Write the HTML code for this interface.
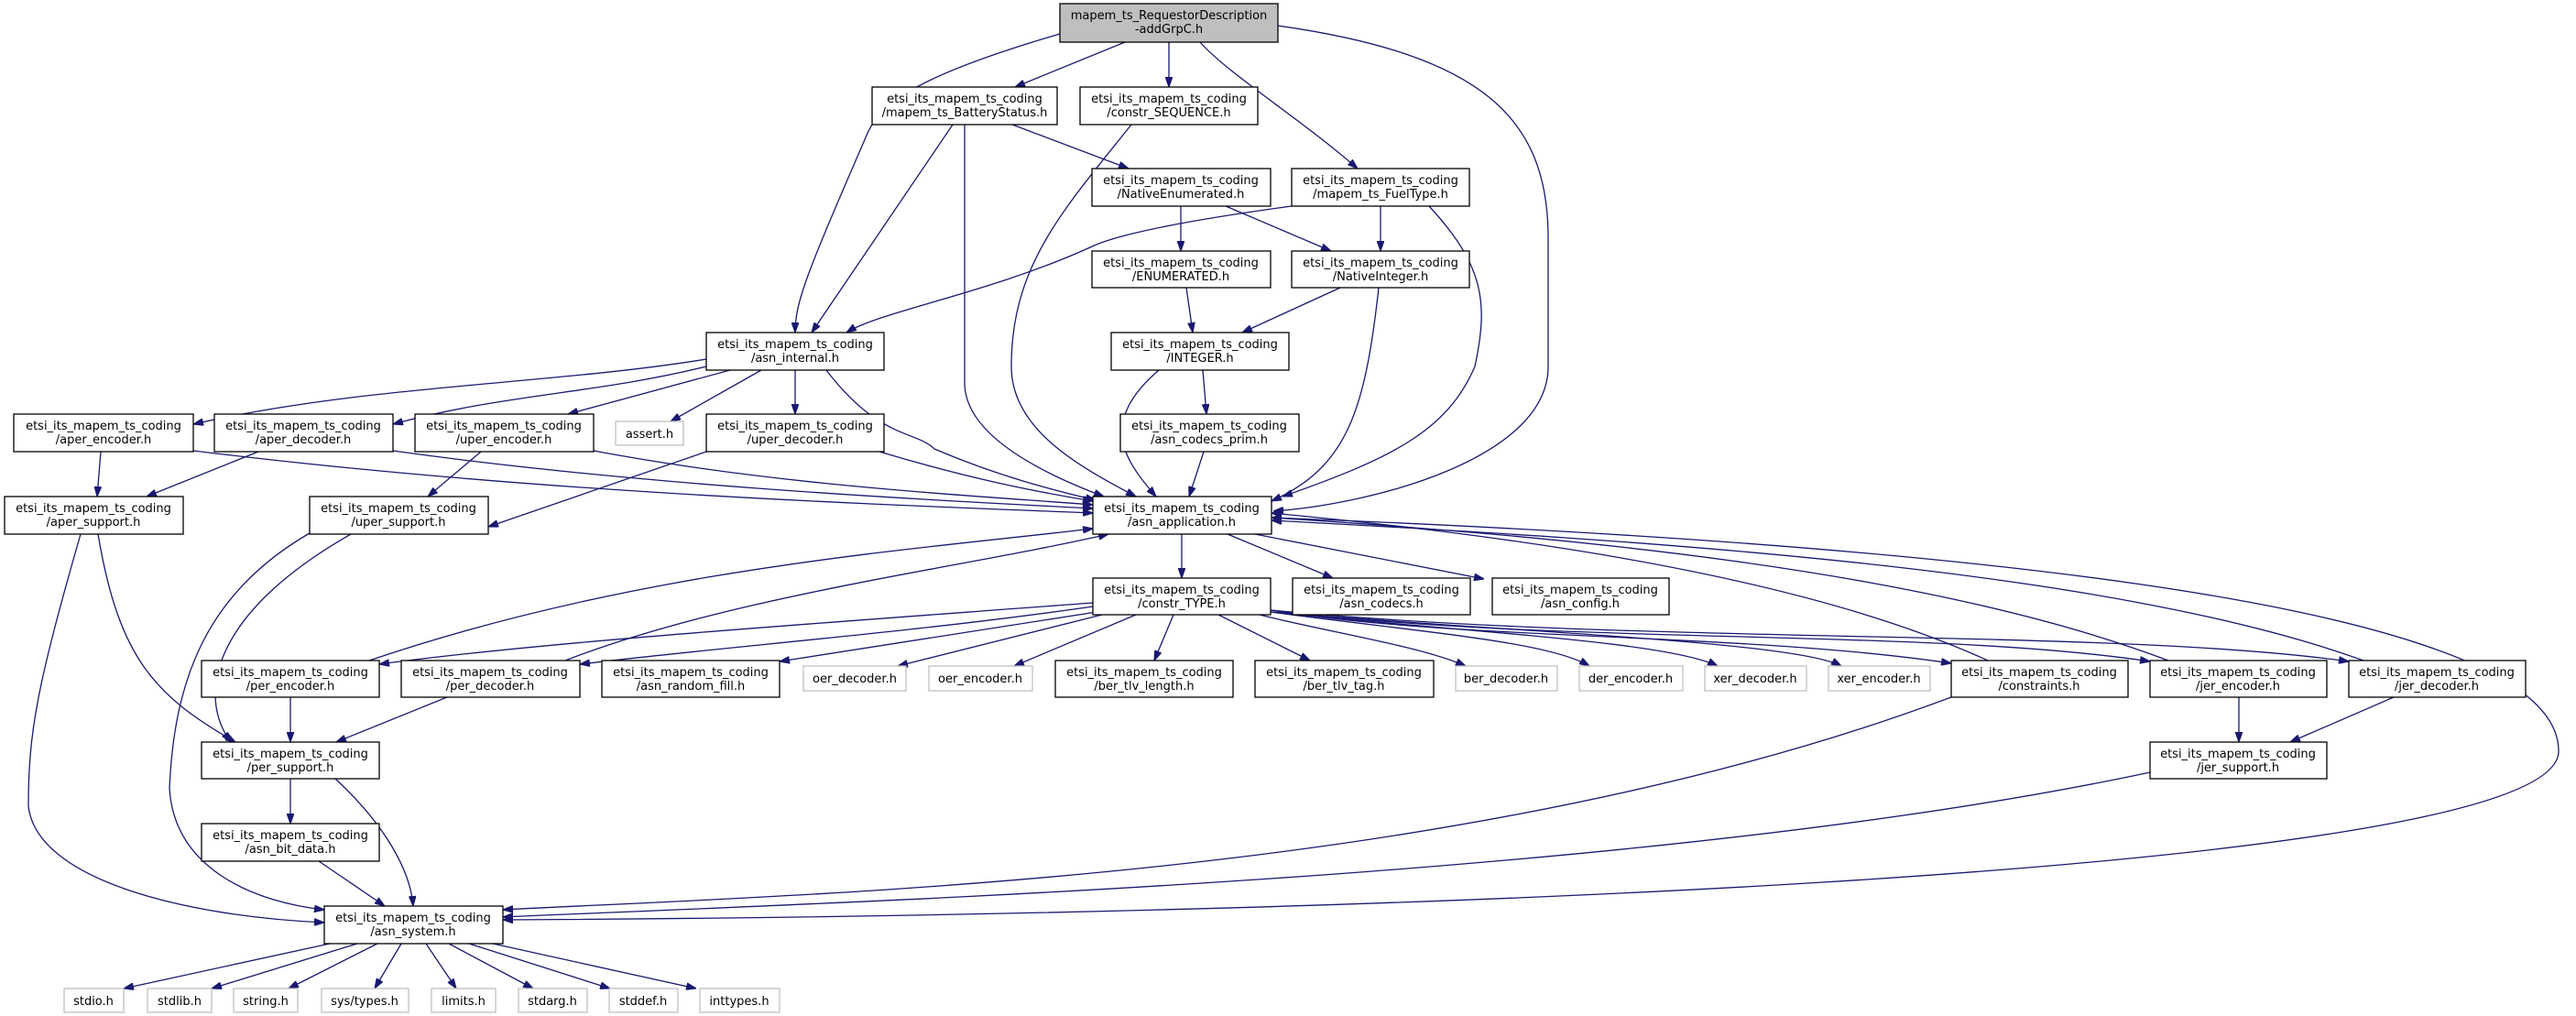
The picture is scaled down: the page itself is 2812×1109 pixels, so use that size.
<!DOCTYPE html>
<html><head><meta charset="utf-8"><style>
html,body{margin:0;padding:0;background:#fff;}
svg{display:block;}
text{font-family:"DejaVu Sans","Liberation Sans",sans-serif;font-size:13px;fill:#000;}
.n{fill:#fff;stroke:#000;stroke-width:1.3;}
.g{fill:#fff;stroke:#bfbfbf;stroke-width:1.3;}
.r{fill:#bfbfbf;stroke:#000;stroke-width:1.3;}
.e{fill:none;stroke:#191970;stroke-width:1.3;}
</style></head><body>
<svg width="2812" height="1109" viewBox="0 0 2812 1109" xmlns="http://www.w3.org/2000/svg">
<defs>
<marker id="a" viewBox="0 0 10 7" refX="10" refY="3.5" markerWidth="11" markerHeight="8" markerUnits="userSpaceOnUse" orient="auto">
<path d="M0,0 L10,3.5 L0,7 z" fill="#191970" stroke="#191970"/>
</marker>
</defs>
<g marker-end="url(#a)">
<!-- root -->
<path class="e" d="M1157,37 C1010,80 960,110 945,150 C880,300 868,330 868,363"/>
<path class="e" d="M1228,46 L1108,95"/>
<path class="e" d="M1276,46 L1276,95"/>
<path class="e" d="M1310,46 C1340,80 1420,130 1482,184"/>
<path class="e" d="M1395,28 C1620,60 1690,130 1690,260 L1690,400 C1690,500 1500,550 1390,558"/>
<!-- BatteryStatus -->
<path class="e" d="M1040,136 L886,363"/>
<path class="e" d="M1053,136 L1053,420 C1055,470 1120,510 1205,542"/>
<path class="e" d="M1105,136 L1232,184"/>
<!-- constr_SEQUENCE -->
<path class="e" d="M1235,136 C1160,230 1104,290 1104,400 C1104,470 1180,510 1240,542"/>
<!-- NativeEnumerated -->
<path class="e" d="M1289,225 L1289,274"/>
<path class="e" d="M1338,225 L1453,274"/>
<!-- FuelType -->
<path class="e" d="M1410,225 C1300,240 1220,255 1190,270 C1080,320 960,340 924,363"/>
<path class="e" d="M1507,225 L1507,274"/>
<path class="e" d="M1560,225 C1620,290 1625,330 1610,400 C1580,470 1520,500 1400,542"/>
<!-- NativeInteger -->
<path class="e" d="M1463,314 L1356,363"/>
<path class="e" d="M1505,314 C1490,450 1470,510 1388,547"/>
<!-- ENUMERATED -->
<path class="e" d="M1295,314 L1302,363"/>
<!-- INTEGER -->
<path class="e" d="M1265,404 C1200,460 1225,500 1262,542"/>
<path class="e" d="M1313,404 L1317,452"/>
<path class="e" d="M1314,493 L1298,542"/>
<!-- asn_internal -->
<path class="e" d="M771,392 C600,420 400,420 211,463"/>
<path class="e" d="M771,400 C650,430 550,430 429,463"/>
<path class="e" d="M797,404 L620,452"/>
<path class="e" d="M831,404 L732,460"/>
<path class="e" d="M868,404 L868,452"/>
<path class="e" d="M902,404 C960,480 1000,470 1020,490 C1090,520 1150,535 1196,546"/>
<!-- aper/uper -->
<path class="e" d="M110,493 L106,542"/>
<path class="e" d="M211,492 C600,540 1000,552 1193,560"/>
<path class="e" d="M282,493 L160,542"/>
<path class="e" d="M429,492 C700,530 1000,545 1193,555"/>
<path class="e" d="M525,493 L467,542"/>
<path class="e" d="M648,492 C850,530 1050,540 1193,551"/>
<path class="e" d="M771,493 L533,575"/>
<path class="e" d="M960,493 C1050,520 1120,535 1193,547"/>
<!-- aper_support -->
<path class="e" d="M107,583 C130,720 170,760 257,810"/>
<path class="e" d="M88,583 C40,750 31,800 31,880 C40,960 200,1000 354,1007"/>
<!-- uper_support -->
<path class="e" d="M383,583 C230,670 215,760 252,810"/>
<path class="e" d="M338,582 C220,650 190,750 185,860 C190,950 280,985 354,993"/>
<!-- asn_application -->
<path class="e" d="M1290,583 L1290,631"/>
<path class="e" d="M1340,583 L1455,631"/>
<path class="e" d="M1370,583 L1620,632"/>
<path class="e" d="M403,721 C700,620 1000,600 1193,577"/>
<path class="e" d="M617,721 C800,650 1050,620 1210,583"/>
<path class="e" d="M2170,721 C1950,620 1600,580 1388,560"/>
<path class="e" d="M2367,721 C2100,620 1700,585 1388,565"/>
<path class="e" d="M2580,721 C2300,620 1800,590 1388,568"/>
<path class="e" d="M1388,565 C2300,600 2793,680 2793,820 C2793,960 1400,1000 549,1004"/>
<!-- constr_TYPE -->
<path class="e" d="M1193,658 C900,680 600,700 414,725"/>
<path class="e" d="M1193,662 C1000,690 800,705 633,725"/>
<path class="e" d="M1197,668 L851,722"/>
<path class="e" d="M1203,671 L980,727"/>
<path class="e" d="M1240,671 L1107,727"/>
<path class="e" d="M1281,671 L1260,721"/>
<path class="e" d="M1330,671 L1430,721"/>
<path class="e" d="M1375,671 C1450,690 1550,705 1600,727"/>
<path class="e" d="M1387,668 C1550,690 1690,700 1735,727"/>
<path class="e" d="M1387,668 C1600,690 1820,700 1875,727"/>
<path class="e" d="M1387,668 C1650,690 1960,700 2010,727"/>
<path class="e" d="M1387,666 C1600,700 1900,690 2130,724"/>
<path class="e" d="M1387,666 C1700,705 2100,685 2347,722"/>
<path class="e" d="M1387,666 C1800,705 2300,685 2564,722"/>
<!-- per -->
<path class="e" d="M317,761 L317,810"/>
<path class="e" d="M488,761 L367,810"/>
<path class="e" d="M317,850 L317,899"/>
<path class="e" d="M366,850 C420,900 448,950 451,989"/>
<path class="e" d="M348,940 L420,989"/>
<path class="e" d="M2130,761 C1600,960 900,975 549,993"/>
<path class="e" d="M2444,761 L2444,810"/>
<path class="e" d="M2613,761 L2500,810"/>
<path class="e" d="M2347,843 C1800,960 900,985 549,1001"/>
<!-- asn_system -->
<path class="e" d="M360,1030 L135,1079"/>
<path class="e" d="M390,1030 L231,1079"/>
<path class="e" d="M412,1030 L315,1079"/>
<path class="e" d="M438,1030 L409,1079"/>
<path class="e" d="M465,1030 L498,1079"/>
<path class="e" d="M490,1030 L582,1079"/>
<path class="e" d="M512,1030 L666,1079"/>
<path class="e" d="M538,1030 L760,1079"/>
</g>
<!-- nodes -->
<rect class="r" x="1157" y="4" width="238" height="42"/>
<text x="1276" y="21" text-anchor="middle">mapem_ts_RequestorDescription</text>
<text x="1276" y="36" text-anchor="middle">-addGrpC.h</text>
<g text-anchor="middle">
<rect class="n" x="952" y="95" width="202" height="41"/><text x="1053" y="112">etsi_its_mapem_ts_coding</text><text x="1053" y="127">/mapem_ts_BatteryStatus.h</text>
<rect class="n" x="1179" y="95" width="194" height="41"/><text x="1276" y="112">etsi_its_mapem_ts_coding</text><text x="1276" y="127">/constr_SEQUENCE.h</text>
<rect class="n" x="1192" y="184" width="195" height="41"/><text x="1289" y="201">etsi_its_mapem_ts_coding</text><text x="1289" y="216">/NativeEnumerated.h</text>
<rect class="n" x="1410" y="184" width="194" height="41"/><text x="1507" y="201">etsi_its_mapem_ts_coding</text><text x="1507" y="216">/mapem_ts_FuelType.h</text>
<rect class="n" x="1192" y="274" width="195" height="40"/><text x="1289" y="291">etsi_its_mapem_ts_coding</text><text x="1289" y="306">/ENUMERATED.h</text>
<rect class="n" x="1410" y="274" width="194" height="40"/><text x="1507" y="291">etsi_its_mapem_ts_coding</text><text x="1507" y="306">/NativeInteger.h</text>
<rect class="n" x="771" y="363" width="194" height="41"/><text x="868" y="380">etsi_its_mapem_ts_coding</text><text x="868" y="395">/asn_internal.h</text>
<rect class="n" x="1213" y="363" width="194" height="41"/><text x="1310" y="380">etsi_its_mapem_ts_coding</text><text x="1310" y="395">/INTEGER.h</text>
<rect class="n" x="15" y="452" width="196" height="41"/><text x="113" y="469">etsi_its_mapem_ts_coding</text><text x="113" y="484">/aper_encoder.h</text>
<rect class="n" x="234" y="452" width="195" height="41"/><text x="331" y="469">etsi_its_mapem_ts_coding</text><text x="331" y="484">/aper_decoder.h</text>
<rect class="n" x="453" y="452" width="195" height="41"/><text x="550" y="469">etsi_its_mapem_ts_coding</text><text x="550" y="484">/uper_encoder.h</text>
<rect class="g" x="672" y="460" width="74" height="26"/><text x="709" y="478">assert.h</text>
<rect class="n" x="771" y="452" width="194" height="41"/><text x="868" y="469">etsi_its_mapem_ts_coding</text><text x="868" y="484">/uper_decoder.h</text>
<rect class="n" x="1223" y="452" width="195" height="41"/><text x="1320" y="469">etsi_its_mapem_ts_coding</text><text x="1320" y="484">/asn_codecs_prim.h</text>
<rect class="n" x="5" y="542" width="195" height="41"/><text x="102" y="559">etsi_its_mapem_ts_coding</text><text x="102" y="574">/aper_support.h</text>
<rect class="n" x="338" y="542" width="195" height="41"/><text x="435" y="559">etsi_its_mapem_ts_coding</text><text x="435" y="574">/uper_support.h</text>
<rect class="n" x="1193" y="542" width="195" height="41"/><text x="1290" y="559">etsi_its_mapem_ts_coding</text><text x="1290" y="574">/asn_application.h</text>
<rect class="n" x="1193" y="631" width="194" height="40"/><text x="1290" y="648">etsi_its_mapem_ts_coding</text><text x="1290" y="663">/constr_TYPE.h</text>
<rect class="n" x="1411" y="631" width="194" height="40"/><text x="1508" y="648">etsi_its_mapem_ts_coding</text><text x="1508" y="663">/asn_codecs.h</text>
<rect class="n" x="1629" y="631" width="193" height="40"/><text x="1725" y="648">etsi_its_mapem_ts_coding</text><text x="1725" y="663">/asn_config.h</text>
<rect class="n" x="220" y="721" width="194" height="40"/><text x="317" y="738">etsi_its_mapem_ts_coding</text><text x="317" y="753">/per_encoder.h</text>
<rect class="n" x="438" y="721" width="195" height="40"/><text x="535" y="738">etsi_its_mapem_ts_coding</text><text x="535" y="753">/per_decoder.h</text>
<rect class="n" x="657" y="721" width="194" height="40"/><text x="754" y="738">etsi_its_mapem_ts_coding</text><text x="754" y="753">/asn_random_fill.h</text>
<rect class="g" x="877" y="727" width="112" height="27"/><text x="933" y="745">oer_decoder.h</text>
<rect class="g" x="1014" y="727" width="113" height="27"/><text x="1070" y="745">oer_encoder.h</text>
<rect class="n" x="1152" y="721" width="194" height="40"/><text x="1249" y="738">etsi_its_mapem_ts_coding</text><text x="1249" y="753">/ber_tlv_length.h</text>
<rect class="n" x="1370" y="721" width="195" height="40"/><text x="1467" y="738">etsi_its_mapem_ts_coding</text><text x="1467" y="753">/ber_tlv_tag.h</text>
<rect class="g" x="1589" y="727" width="111" height="27"/><text x="1644" y="745">ber_decoder.h</text>
<rect class="g" x="1724" y="727" width="113" height="27"/><text x="1780" y="745">der_encoder.h</text>
<rect class="g" x="1861" y="727" width="111" height="27"/><text x="1916" y="745">xer_decoder.h</text>
<rect class="g" x="1996" y="727" width="111" height="27"/><text x="2051" y="745">xer_encoder.h</text>
<rect class="n" x="2130" y="721" width="193" height="40"/><text x="2226" y="738">etsi_its_mapem_ts_coding</text><text x="2226" y="753">/constraints.h</text>
<rect class="n" x="2347" y="721" width="193" height="40"/><text x="2443" y="738">etsi_its_mapem_ts_coding</text><text x="2443" y="753">/jer_encoder.h</text>
<rect class="n" x="2564" y="721" width="193" height="40"/><text x="2660" y="738">etsi_its_mapem_ts_coding</text><text x="2660" y="753">/jer_decoder.h</text>
<rect class="n" x="220" y="810" width="194" height="40"/><text x="317" y="827">etsi_its_mapem_ts_coding</text><text x="317" y="842">/per_support.h</text>
<rect class="n" x="2347" y="810" width="193" height="40"/><text x="2443" y="827">etsi_its_mapem_ts_coding</text><text x="2443" y="842">/jer_support.h</text>
<rect class="n" x="220" y="899" width="194" height="41"/><text x="317" y="916">etsi_its_mapem_ts_coding</text><text x="317" y="931">/asn_bit_data.h</text>
<rect class="n" x="354" y="989" width="195" height="41"/><text x="451" y="1006">etsi_its_mapem_ts_coding</text><text x="451" y="1021">/asn_system.h</text>
<rect class="g" x="70" y="1079" width="65" height="26"/><text x="102" y="1097">stdio.h</text>
<rect class="g" x="161" y="1079" width="70" height="26"/><text x="196" y="1097">stdlib.h</text>
<rect class="g" x="255" y="1079" width="70" height="26"/><text x="290" y="1097">string.h</text>
<rect class="g" x="351" y="1079" width="95" height="26"/><text x="398" y="1097">sys/types.h</text>
<rect class="g" x="471" y="1079" width="70" height="26"/><text x="506" y="1097">limits.h</text>
<rect class="g" x="566" y="1079" width="75" height="26"/><text x="603" y="1097">stdarg.h</text>
<rect class="g" x="665" y="1079" width="75" height="26"/><text x="702" y="1097">stddef.h</text>
<rect class="g" x="764" y="1079" width="87" height="26"/><text x="807" y="1097">inttypes.h</text>
</g>
</svg>
</body></html>
